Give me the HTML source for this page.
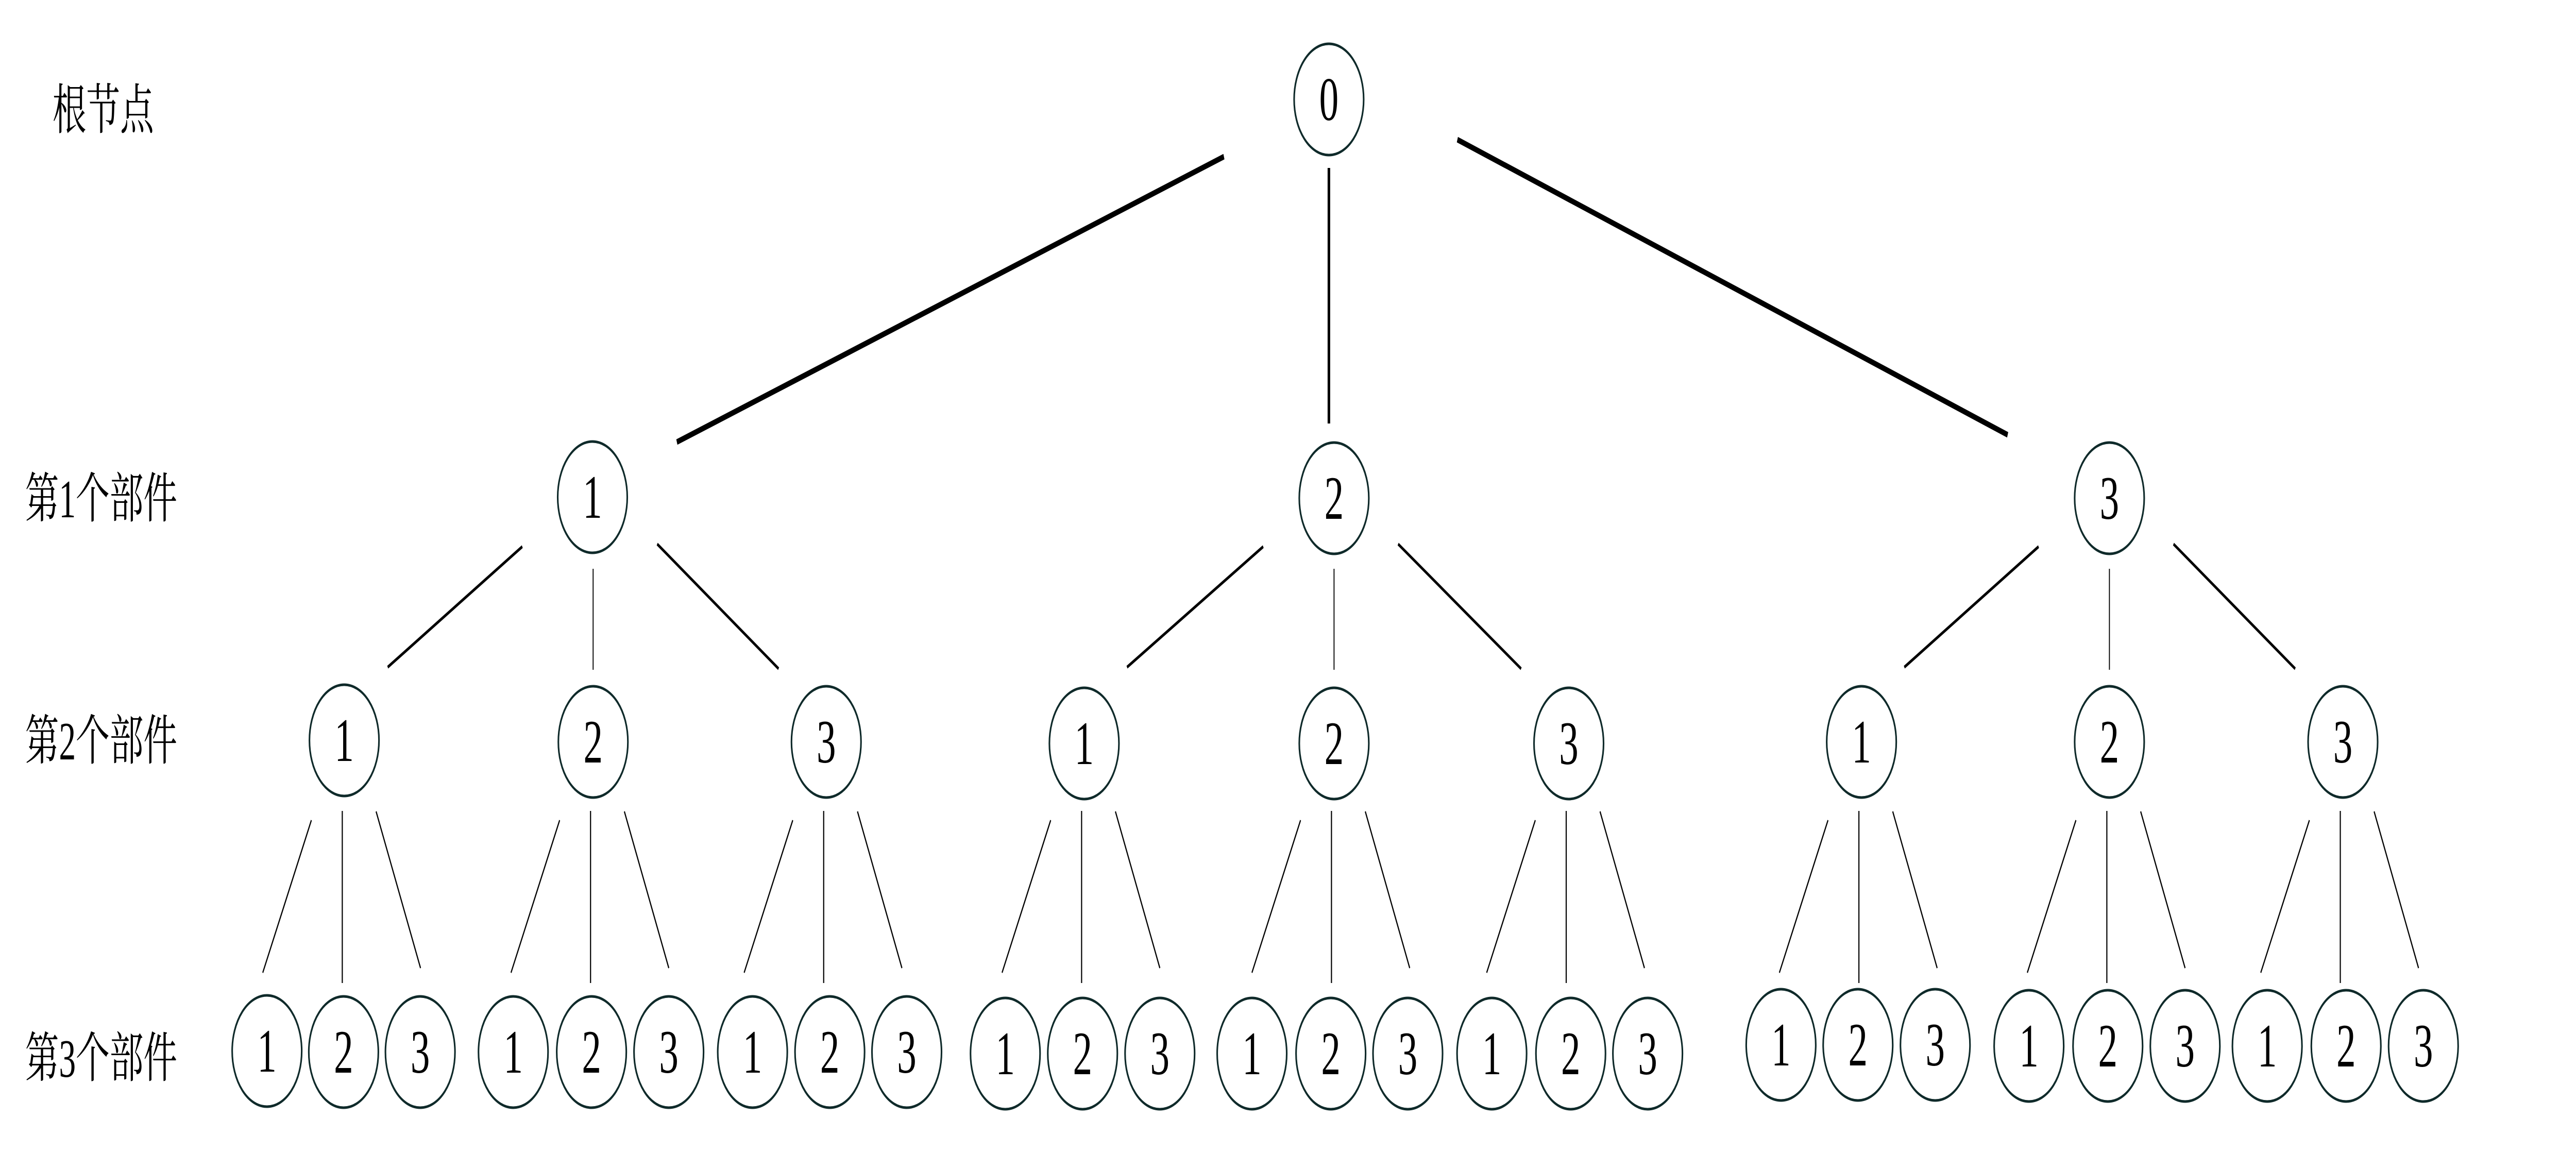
<!DOCTYPE html>
<html><head><meta charset="utf-8"><style>html,body{margin:0;padding:0;background:#fff;overflow:hidden;width:100%;height:100%}svg{display:block;width:100vw;height:100vh}</style></head><body>
<svg viewBox="0 0 8000 2269" preserveAspectRatio="none" xmlns="http://www.w3.org/2000/svg">
<g stroke="#000" stroke-linecap="butt">
<line x1="3801" y1="304" x2="2102" y2="858" stroke-width="11"/>
<line x1="4127" y1="326" x2="4127" y2="822" stroke-width="8"/>
<line x1="4526" y1="271" x2="6235" y2="844" stroke-width="11"/>
<g stroke-width="6">
<line x1="1622" y1="1061" x2="1204" y2="1295"/><line x1="2041" y1="1056" x2="2418" y2="1298"/>
<line x1="3923" y1="1061" x2="3500" y2="1295"/><line x1="4342" y1="1056" x2="4724" y2="1298"/>
<line x1="6331" y1="1061" x2="5914" y2="1295"/><line x1="6750" y1="1056" x2="7128" y2="1298"/>
</g>
<g stroke-width="3">
<line x1="1842" y1="1104" x2="1842" y2="1300"/><line x1="4143" y1="1104" x2="4143" y2="1300"/><line x1="6551" y1="1104" x2="6551" y2="1300"/>
</g>
<g stroke-width="3.5">
<line x1="967" y1="1592" x2="816" y2="1888"/><line x1="1063" y1="1574" x2="1063" y2="1908"/><line x1="1168" y1="1575" x2="1306" y2="1879"/>
<line x1="1738" y1="1592" x2="1587" y2="1888"/><line x1="1834" y1="1574" x2="1834" y2="1908"/><line x1="1939" y1="1575" x2="2077" y2="1879"/>
<line x1="2462" y1="1592" x2="2311" y2="1888"/><line x1="2558" y1="1574" x2="2558" y2="1908"/><line x1="2663" y1="1575" x2="2801" y2="1879"/>
<line x1="3263" y1="1592" x2="3112" y2="1888"/><line x1="3359" y1="1574" x2="3359" y2="1908"/><line x1="3464" y1="1575" x2="3602" y2="1879"/>
<line x1="4039" y1="1592" x2="3888" y2="1888"/><line x1="4135" y1="1574" x2="4135" y2="1908"/><line x1="4240" y1="1575" x2="4378" y2="1879"/>
<line x1="4768" y1="1592" x2="4617" y2="1888"/><line x1="4864" y1="1574" x2="4864" y2="1908"/><line x1="4969" y1="1575" x2="5107" y2="1879"/>
<line x1="5677" y1="1592" x2="5526" y2="1888"/><line x1="5773" y1="1574" x2="5773" y2="1908"/><line x1="5878" y1="1575" x2="6016" y2="1879"/>
<line x1="6447" y1="1592" x2="6296" y2="1888"/><line x1="6543" y1="1574" x2="6543" y2="1908"/><line x1="6648" y1="1575" x2="6786" y2="1879"/>
<line x1="7172" y1="1592" x2="7021" y2="1888"/><line x1="7268" y1="1574" x2="7268" y2="1908"/><line x1="7373" y1="1575" x2="7511" y2="1879"/>
</g>
</g>
<g fill="none" stroke="#0f2a2a" stroke-width="5">
<circle cx="4127" cy="193" r="108"/>
<circle cx="1840" cy="965" r="108"/><circle cx="4143" cy="967" r="108"/><circle cx="6551" cy="967" r="108"/>
<circle cx="1069" cy="1437" r="108"/><circle cx="1842" cy="1440" r="108"/><circle cx="2566" cy="1440" r="108"/>
<circle cx="3367" cy="1443" r="108"/><circle cx="4143" cy="1443" r="108"/><circle cx="4872" cy="1443" r="108"/>
<circle cx="5781" cy="1440" r="108"/><circle cx="6551" cy="1440" r="108"/><circle cx="7276" cy="1440" r="108"/>
<circle cx="829" cy="2040" r="108"/><circle cx="1067" cy="2042" r="108"/><circle cx="1305" cy="2042" r="108"/>
<circle cx="1594" cy="2042" r="108"/><circle cx="1837" cy="2042" r="108"/><circle cx="2077" cy="2042" r="108"/>
<circle cx="2337" cy="2042" r="108"/><circle cx="2577" cy="2042" r="108"/><circle cx="2816" cy="2042" r="108"/>
<circle cx="3122" cy="2045" r="108"/><circle cx="3362" cy="2045" r="108"/><circle cx="3602" cy="2045" r="108"/>
<circle cx="3888" cy="2045" r="108"/><circle cx="4133" cy="2045" r="108"/><circle cx="4372" cy="2045" r="108"/>
<circle cx="4633" cy="2045" r="108"/><circle cx="4878" cy="2045" r="108"/><circle cx="5117" cy="2045" r="108"/>
<circle cx="5531" cy="2028" r="108"/><circle cx="5770" cy="2028" r="108"/><circle cx="6010" cy="2028" r="108"/>
<circle cx="6301" cy="2030" r="108"/><circle cx="6546" cy="2030" r="108"/><circle cx="6786" cy="2030" r="108"/>
<circle cx="7041" cy="2030" r="108"/><circle cx="7286" cy="2030" r="108"/><circle cx="7526" cy="2030" r="108"/>
</g>
<g font-family="'Liberation Serif', serif" font-size="120" text-anchor="middle" fill="#000">
<text x="4127" y="233">0</text>
<text x="1840" y="1005">1</text><text x="4143" y="1007">2</text><text x="6551" y="1007">3</text>
<text x="1069" y="1477">1</text><text x="1842" y="1480">2</text><text x="2566" y="1480">3</text>
<text x="3367" y="1483">1</text><text x="4143" y="1483">2</text><text x="4872" y="1483">3</text>
<text x="5781" y="1480">1</text><text x="6551" y="1480">2</text><text x="7276" y="1480">3</text>
<text x="829" y="2080">1</text><text x="1067" y="2082">2</text><text x="1305" y="2082">3</text>
<text x="1594" y="2082">1</text><text x="1837" y="2082">2</text><text x="2077" y="2082">3</text>
<text x="2337" y="2082">1</text><text x="2577" y="2082">2</text><text x="2816" y="2082">3</text>
<text x="3122" y="2085">1</text><text x="3362" y="2085">2</text><text x="3602" y="2085">3</text>
<text x="3888" y="2085">1</text><text x="4133" y="2085">2</text><text x="4372" y="2085">3</text>
<text x="4633" y="2085">1</text><text x="4878" y="2085">2</text><text x="5117" y="2085">3</text>
<text x="5531" y="2068">1</text><text x="5770" y="2068">2</text><text x="6010" y="2068">3</text>
<text x="6301" y="2070">1</text><text x="6546" y="2070">2</text><text x="6786" y="2070">3</text>
<text x="7041" y="2070">1</text><text x="7286" y="2070">2</text><text x="7526" y="2070">3</text>
</g>
<g font-family="'Liberation Serif', 'Noto Serif CJK SC', serif" font-size="105" fill="#000">
<text x="163" y="250">根节点</text>
<text x="78" y="1004">第1个部件</text>
<text x="78" y="1474">第2个部件</text>
<text x="78" y="2090">第3个部件</text>
</g>
</svg>
</body></html>
